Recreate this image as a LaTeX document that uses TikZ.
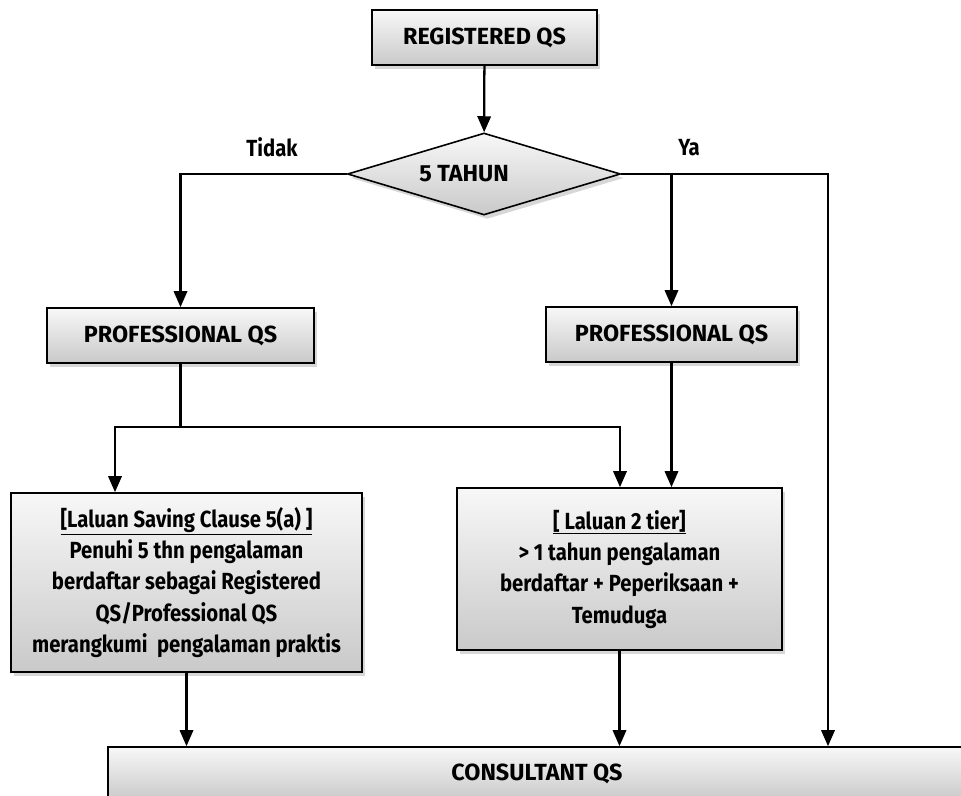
\documentclass[tikz,border=0pt]{standalone}
\usepackage{fontspec}
\setmainfont{Fira Sans}[FakeStretch=0.87]
\newfontfamily\capsfont{Fira Sans}
\usetikzlibrary{shapes.geometric,shadows,arrows.meta}
\tikzset{
  box/.style={draw=black, line width=1.2pt, top color=gray!6, bottom color=gray!42,
    drop shadow={shadow xshift=2.5pt, shadow yshift=-3pt, fill=gray!70, opacity=0.45},
    font=\bfseries\fontsize{17.5}{23.5}\selectfont, align=center, inner sep=0pt},
  capbox/.style={box, font=\capsfont\bfseries\fontsize{17.5}{21}\selectfont},
  conn/.style={line width=1.7pt, -{Triangle[length=12pt,width=10pt]}},
  plain/.style={line width=1.7pt},
  lbl/.style={font=\bfseries\fontsize{17.5}{20}\selectfont, inner sep=0pt}
}
\begin{document}
\begin{tikzpicture}[x=0.75pt,y=-0.75pt]
\useasboundingbox (0,0) rectangle (961,796);
\node[capbox, minimum width=168.75pt, minimum height=41.25pt] (reg) at (484.5,37.5) {REGISTERED QS};
\node[capbox, diamond, aspect=3.3, minimum width=204.75pt, minimum height=61.5pt] (dia) at (484,174) {5 TAHUN\hspace*{30pt}};
\node[capbox, minimum width=200.25pt, minimum height=41.25pt] (pqsL) at (180.5,335.5) {PROFESSIONAL QS};
\node[capbox, minimum width=188.25pt, minimum height=41.25pt] (pqsR) at (671.5,334.5) {PROFESSIONAL QS};
\node[box, minimum width=263.25pt, minimum height=134.25pt] (boxL) at (186.5,582.5)
  {\underline{[Laluan Saving Clause 5(a) ]}\\Penuhi 5 thn pengalaman\\berdaftar sebagai Registered\\QS/Professional QS\\merangkumi\ \ pengalaman praktis};
\node[box, minimum width=243.75pt, minimum height=121.5pt] (boxR) at (619.5,569)
  {\underline{[ Laluan 2 tier]}\\> 1 tahun pengalaman\\berdaftar + Peperiksaan +\\Temuduga};
\node[capbox, minimum width=643.5pt, minimum height=39.75pt] (cons) at (537,773.5) {CONSULTANT QS};
\node[lbl] (tidak) at (272,147) {Tidak};
\node[lbl] (ya) at (689,148) {Ya};
\coordinate (rx) at (828,0);
\coordinate (hl) at (115,427);
\coordinate (hr) at (620,427);
\draw[conn] (reg) -- (dia);
\draw[conn] (dia.west) -| (pqsL.north);
\draw[conn] (dia.east) -| (cons.north -| rx);
\draw[conn] (pqsR.north |- dia.east) -- (pqsR.north);
\draw[plain] (pqsL.south) -- (pqsL.south |- hl);
\draw[conn] (pqsL.south |- hl) -- (hl) -- (hl |- boxL.north);
\draw[conn] (pqsL.south |- hl) -- (hr) -- (hr |- boxR.north);
\draw[conn] (pqsR.south) -- (pqsR.south |- boxR.north);
\draw[conn] (boxL.south) -- (boxL.south |- cons.north);
\draw[conn] (boxR.south) -- (boxR.south |- cons.north);
\end{tikzpicture}
\end{document}
